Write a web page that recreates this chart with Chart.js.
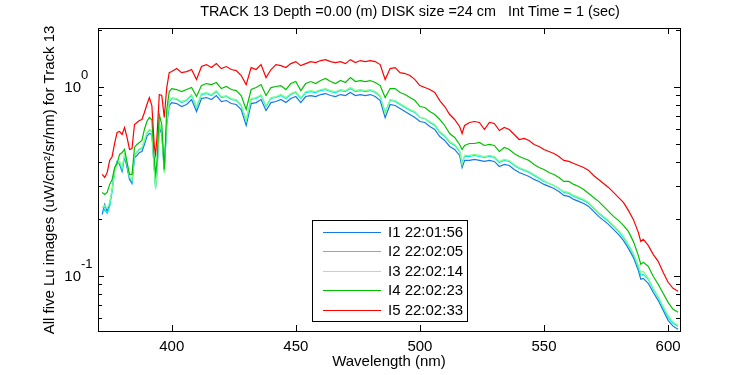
<!DOCTYPE html>
<html>
<head>
<meta charset="utf-8">
<script src="https://cdn.jsdelivr.net/npm/chart.js@4.4.1/dist/chart.umd.min.js"></script>
<style>
html,body{margin:0;padding:0;background:#fff;}
#wrap{width:750px;height:375px;}
</style>
</head>
<body>
<div id="wrap"><canvas id="c" width="750" height="375"></canvas></div>
<script>
const titleText = "TRACK 13 Depth =0.00 (m) DISK size =24 cm   Int Time = 1 (sec)";
const xTitle = "Wavelength (nm)";
const yTitle = "All five Lu images (uW/cm\u00B2/sr/nm) for Track 13";
const seriesLabels = ["I1 22:01:56","I2 22:02:05","I3 22:02:14","I4 22:02:23","I5 22:02:33"];
const seriesColors = ["#1478e6","#00e6f0","#80ff80","#00c000","#ff0000"];
const xTicks = [400,450,500,550,600];
const yMajorTicks = [0.1, 1];
const yMajorExp = ["-1","0"];
const yMinorTicks = [0.06,0.07,0.08,0.09,0.2,0.3,0.4,0.5,0.6,0.7,0.8,0.9,2];

const wavelengths = [372,373,374,375,376,377,378,379,380,381,382,383,384,385,386,387,388,389,390,391,392,393,393.5,394,395,396,397,398,399,400,
402,404,406,408,410,412,414,416,418,420,422,424,426,428,430,432,434,436,438,440,442,444,446,448,450,452,454,456,458,460,
462,464,466,468,470,472,474,476,478,480,482,484,486,488,490,492,494,496,498,500,502,504,506,508,510,512,514,516,517,
518,520,522,524,526,528,530,532,534,536,538,540,542,544,546,548,550,552,554,556,558,560,562,564,566,568,570,572,574,576,578,580,582,584,586,588,589,
590,592,594,596,598,600,602,604];

const i1 = [0.2111,0.2384,0.2189,0.2384,0.2862,0.3652,0.4026,0.3881,0.3564,0.4278,0.3742,0.3233,0.3079,0.4226,0.4331,0.4493,0.4548,0.4952,0.5459,0.5662,0.5594,0.3652,0.2933,0.3436,0.6166,0.5594,0.3564,0.6318,0.7963,0.8255,
0.8158,0.7867,0.8061,0.8567,0.7401,0.8672,0.8778,0.8567,0.8995,0.8361,0.8463,0.8158,0.8061,0.7585,0.6242,0.8158,0.8255,0.8567,0.7493,0.8255,0.8361,0.8567,0.8255,0.8672,0.8886,0.8255,0.8886,0.8995,0.8886,0.9105,
0.9217,0.8995,0.8886,0.9105,0.8995,0.9329,0.8995,0.9105,0.8995,0.9105,0.8886,0.8463,0.6881,0.8061,0.7963,0.7678,0.7401,0.7137,0.6881,0.6553,0.6474,0.6166,0.5945,0.5459,0.5199,0.4833,0.4660,0.4331,0.3742,
0.4075,0.4075,0.4125,0.4075,0.4026,0.4075,0.4026,0.3787,0.3881,0.3834,0.3652,0.3521,0.3436,0.3354,0.3233,0.3155,0.3042,0.2969,0.2897,0.2793,0.2660,0.2628,0.2534,0.2473,0.2413,0.2327,0.2189,0.2060,0.1962,0.1869,0.1758,0.1654,0.1538,0.1395,0.1250,0.1067,0.0956,
0.0967,0.0911,0.0816,0.0740,0.0655,0.0580,0.0540,0.0520];

const i2 = [0.2189,0.2243,0.2136,0.2327,0.2793,0.3564,0.3977,0.3977,0.3652,0.4331,0.3881,0.3313,0.3155,0.4331,0.4493,0.4660,0.4716,0.5137,0.5662,0.5873,0.5802,0.3742,0.3005,0.3564,0.6395,0.5802,0.3652,0.6553,0.8361,0.8672,
0.8567,0.8255,0.8463,0.8995,0.7772,0.9105,0.9217,0.8995,0.9443,0.8778,0.8886,0.8567,0.8463,0.7963,0.6553,0.8567,0.8672,0.8995,0.7867,0.8672,0.8778,0.8995,0.8672,0.9105,0.9329,0.8672,0.9329,0.9443,0.9329,0.9559,
0.9676,0.9443,0.9329,0.9559,0.9443,0.9794,0.9443,0.9559,0.9443,0.9559,0.9329,0.8886,0.7313,0.8463,0.8361,0.8061,0.7772,0.7493,0.7313,0.6881,0.6797,0.6474,0.6242,0.5732,0.5459,0.5074,0.4892,0.4548,0.3977,
0.4278,0.4278,0.4331,0.4278,0.4226,0.4278,0.4226,0.3977,0.4075,0.4026,0.3834,0.3697,0.3608,0.3521,0.3394,0.3273,0.3155,0.3079,0.3005,0.2897,0.2759,0.2726,0.2628,0.2565,0.2503,0.2413,0.2270,0.2137,0.2034,0.1938,0.1823,0.1716,0.1595,0.1447,0.1297,0.1106,0.1004,
0.1016,0.0956,0.0847,0.0768,0.0679,0.0601,0.0560,0.0540];

const i3 = [0.2298,0.2355,0.2270,0.2443,0.2862,0.3521,0.3929,0.4026,0.3742,0.4384,0.3929,0.3354,0.3194,0.4384,0.4548,0.4716,0.4774,0.5199,0.5732,0.5945,0.5873,0.3564,0.2862,0.3394,0.6474,0.5802,0.3478,0.6553,0.8463,0.8778,
0.8672,0.8361,0.8567,0.9105,0.7867,0.9217,0.9329,0.9105,0.9559,0.8886,0.8995,0.8672,0.8567,0.8061,0.6634,0.8672,0.8778,0.9105,0.7963,0.8778,0.8886,0.9105,0.8778,0.9217,0.9443,0.8778,0.9443,0.9559,0.9443,0.9676,
0.9794,0.9559,0.9443,0.9676,0.9559,0.9915,0.9559,0.9676,0.9559,0.9676,0.9443,0.8995,0.7224,0.8567,0.8463,0.8158,0.7867,0.7585,0.7401,0.6881,0.6797,0.6553,0.6318,0.5802,0.5526,0.5137,0.4952,0.4604,0.3881,
0.4331,0.4331,0.4384,0.4331,0.4278,0.4331,0.4278,0.4026,0.4125,0.4075,0.3881,0.3742,0.3652,0.3564,0.3436,0.3313,0.3194,0.3079,0.3005,0.2897,0.2793,0.2759,0.2660,0.2596,0.2534,0.2443,0.2298,0.2164,0.2060,0.1962,0.1846,0.1737,0.1614,0.1465,0.1313,0.1134,0.1041,
0.1054,0.0967,0.0857,0.0777,0.0687,0.0616,0.0567,0.0547];

const i4 = [0.2759,0.2693,0.2759,0.3042,0.3233,0.3742,0.3929,0.4384,0.4493,0.4660,0.3977,0.3436,0.3436,0.4774,0.4952,0.5074,0.5199,0.5945,0.6553,0.6881,0.6715,0.4125,0.3478,0.3881,0.7137,0.6318,0.3652,0.7585,0.9443,0.9794,
0.9676,0.9443,0.9676,0.9915,0.8886,1.016,1.041,1.028,1.054,0.9794,1.004,0.9676,0.9559,0.8995,0.7585,0.9676,0.9915,1.028,0.8995,0.9915,1.004,1.016,0.9676,1.041,1.067,0.9559,1.041,1.067,1.041,1.080,
1.107,1.067,1.041,1.080,1.054,1.120,1.067,1.080,1.067,1.080,1.054,1.016,0.8778,0.9794,0.9794,0.9329,0.9105,0.8778,0.8463,0.7867,0.7772,0.7401,0.7137,0.6715,0.6242,0.5662,0.5393,0.4952,0.4660,
0.4892,0.5012,0.5012,0.5074,0.4892,0.4952,0.4892,0.4548,0.4774,0.4660,0.4438,0.4278,0.4175,0.4075,0.3881,0.3742,0.3652,0.3521,0.3436,0.3313,0.3155,0.3155,0.3042,0.2969,0.2862,0.2726,0.2596,0.2473,0.2327,0.2189,0.2060,0.1962,0.1846,0.1716,0.1519,0.1281,0.1148,
0.1176,0.1120,0.0992,0.0900,0.0807,0.0722,0.0663,0.0639];

const i5 = [0.3436,0.3313,0.3521,0.4075,0.4278,0.5012,0.5732,0.5802,0.5594,0.6091,0.5393,0.4660,0.4716,0.6318,0.6474,0.6634,0.6715,0.7313,0.8061,0.8778,0.7963,0.4833,0.4384,0.5263,0.9105,0.8995,0.6881,0.9915,1.190,1.205,
1.250,1.190,1.205,1.235,1.093,1.281,1.312,1.265,1.328,1.250,1.281,1.235,1.220,1.148,1.028,1.265,1.235,1.312,1.120,1.235,1.312,1.296,1.265,1.328,1.361,1.296,1.328,1.361,1.344,1.378,
1.394,1.361,1.344,1.361,1.328,1.394,1.344,1.378,1.361,1.378,1.361,1.312,1.093,1.250,1.265,1.190,1.176,1.148,1.093,1.016,0.9915,0.9676,0.9329,0.8463,0.7867,0.7137,0.6715,0.6166,0.5662,
0.6242,0.6474,0.6553,0.6474,0.5945,0.6474,0.6395,0.5873,0.6091,0.5945,0.5594,0.5263,0.5328,0.5199,0.4952,0.4833,0.4660,0.4548,0.4438,0.4278,0.4075,0.4026,0.3929,0.3834,0.3742,0.3608,0.3394,0.3233,0.3079,0.2933,0.2759,0.2596,0.2443,0.2216,0.1986,0.1695,0.1519,
0.1557,0.1447,0.1297,0.1191,0.1041,0.0922,0.0857,0.0827];

const X_MIN = 370.3, X_MAX = 604.8, Y_MIN = 0.0509, Y_MAX = 2.05;

const FONT = "'Liberation Sans',Arial,sans-serif";
const allSeries = [i1,i2,i3,i4,i5];

const datasets = allSeries.map((s, k) => ({
  label: seriesLabels[k],
  data: wavelengths.map((w, i) => ({x: w, y: s[i]})),
  borderColor: seriesColors[k],
  backgroundColor: seriesColors[k],
  borderWidth: 1.2,
  pointRadius: 0,
  tension: 0,
  fill: false,
  order: 5 - k
}));

const deco = {
  id: 'deco',
  afterDatasetsDraw(chart) {
    const ctx = chart.ctx;
    const a = chart.chartArea;
    const xs = chart.scales.x, ys = chart.scales.y;
    ctx.save();
    ctx.strokeStyle = '#000';
    ctx.fillStyle = '#000';
    ctx.lineWidth = 1;
    ctx.strokeRect(Math.round(a.left)+0.5, Math.round(a.top)+0.5, Math.round(a.right-a.left), Math.round(a.bottom-a.top));
    ctx.beginPath();
    xTicks.forEach(v => {
      const px = Math.round(xs.getPixelForValue(v)) + 0.5;
      ctx.moveTo(px, a.bottom); ctx.lineTo(px, a.bottom - 6);
      ctx.moveTo(px, a.top); ctx.lineTo(px, a.top + 6);
    });
    yMajorTicks.forEach(v => {
      const py = Math.round(ys.getPixelForValue(v)) + 0.5;
      ctx.moveTo(a.left, py); ctx.lineTo(a.left + 6, py);
      ctx.moveTo(a.right, py); ctx.lineTo(a.right - 6, py);
    });
    yMinorTicks.forEach(v => {
      const py = Math.round(ys.getPixelForValue(v)) + 0.5;
      ctx.moveTo(a.left, py); ctx.lineTo(a.left + 4, py);
      ctx.moveTo(a.right, py); ctx.lineTo(a.right - 4, py);
    });
    ctx.stroke();
    ctx.font = "15px " + FONT;
    ctx.textAlign = 'center';
    ctx.textBaseline = 'middle';
    xTicks.forEach(v => ctx.fillText(String(v), xs.getPixelForValue(v), a.bottom + 16));
    yMajorTicks.forEach((v, k) => {
      const py = ys.getPixelForValue(v);
      ctx.font = "15px " + FONT;
      ctx.textAlign = 'right';
      ctx.fillText("10", 81, py + 1);
      ctx.font = "13px " + FONT;
      ctx.textAlign = 'left';
      ctx.fillText(yMajorExp[k], 81, py - 11);
    });
    ctx.font = "14.4px " + FONT;
    ctx.textAlign = 'center';
    ctx.fillText(titleText, 410, 12);
    ctx.font = "15px " + FONT;
    ctx.fillText(xTitle, (a.left + a.right) / 2, 362);
    ctx.save();
    ctx.translate(50, 180);
    ctx.rotate(-Math.PI / 2);
    ctx.fillText(yTitle, 0, 0);
    ctx.restore();
    const lx = 312.5, ly = 220.5, lw = 155, lh = 101;
    ctx.fillStyle = '#fff';
    ctx.fillRect(lx, ly, lw, lh);
    ctx.strokeStyle = '#000';
    ctx.strokeRect(lx, ly, lw, lh);
    chart.data.datasets.forEach((ds, k) => {
      const ry = Math.round(232 + k * 19.4) + 0.5;
      ctx.strokeStyle = ds.borderColor;
      ctx.lineWidth = 1.2;
      ctx.beginPath();
      ctx.moveTo(323, ry); ctx.lineTo(381, ry);
      ctx.stroke();
      ctx.fillStyle = '#000';
      ctx.font = "15px " + FONT;
      ctx.textAlign = 'left';
      ctx.textBaseline = 'middle';
      ctx.fillText(ds.label, 388, ry);
    });
    ctx.restore();
  }
};

new Chart(document.getElementById('c'), {
  type: 'line',
  data: { datasets },
  options: {
    responsive: false,
    devicePixelRatio: 1,
    animation: false,
    layout: { padding: { left: 98, top: 28, right: 70, bottom: 44 } },
    plugins: { legend: { display: false }, tooltip: { enabled: false }, title: { display: false } },
    scales: {
      x: { type: 'linear', display: false, min: X_MIN, max: X_MAX },
      y: { type: 'logarithmic', display: false, min: Y_MIN, max: Y_MAX }
    }
  },
  plugins: [deco]
});
</script>
</body>
</html>
